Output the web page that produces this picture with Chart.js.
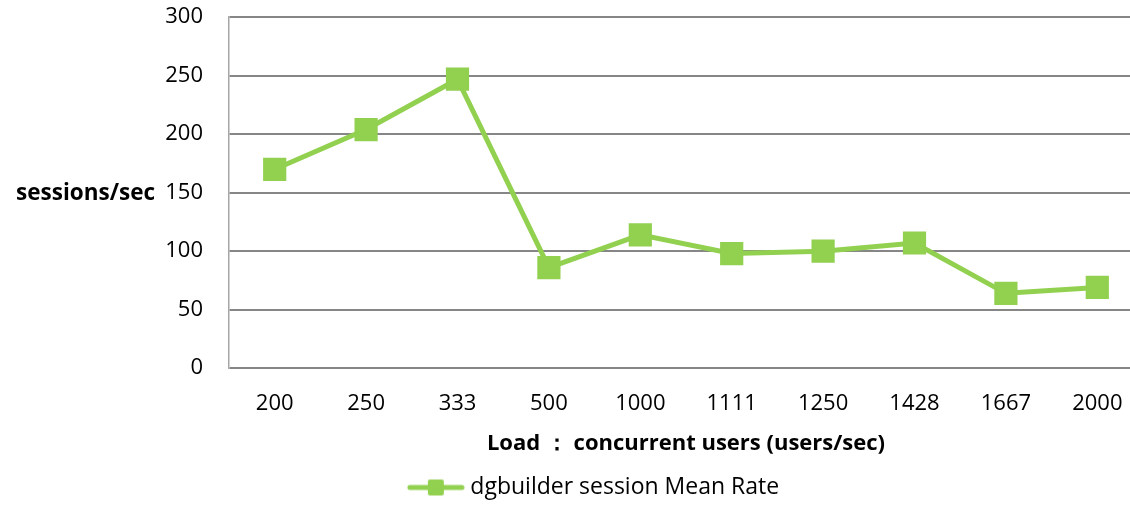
<!DOCTYPE html>
<html>
<head>
<meta charset="utf-8">
<script src="https://cdn.jsdelivr.net/npm/chart.js@4.4.1/dist/chart.umd.min.js"></script>
<style>
  html, body { margin: 0; padding: 0; background: #fff; overflow: hidden; }
  #wrap { width: 1160px; height: 531px; margin-top: -22px; }
</style>
</head>
<body>
<div id="wrap"><canvas id="c" width="1160" height="531"></canvas></div>
<script>
/* Werte */
const loads = ['200', '250', '333', '500', '1000', '1111', '1250', '1428', '1667', '2000'];
const meanRate = [170, 204, 247, 86, 114, 98, 100, 107, 64, 69];
const yMin = 0, yMax = 300, yStep = 50;

const GREEN = '#92D050';
const FONT = '"Open Sans", Lato, sans-serif';

/* Legendensymbol: Linie mit kleinem Quadrat */
function legendIcon() {
  const cv = document.createElement('canvas');
  cv.width = 58; cv.height = 18;
  const g = cv.getContext('2d');
  g.strokeStyle = GREEN; g.lineWidth = 5; g.lineCap = 'round';
  g.beginPath(); g.moveTo(3, 9); g.lineTo(55, 9); g.stroke();
  g.fillStyle = GREEN;
  g.beginPath(); g.roundRect(21, 1, 16, 16, 2); g.fill();
  return cv;
}

/* horizontaler Y-Achsentitel links neben den Ticks */
const yTitle = {
  id: 'yTitle',
  afterDraw(chart) {
    const { ctx, chartArea } = chart;
    ctx.save();
    ctx.font = 'bold 22.5px ' + FONT;
    ctx.fillStyle = '#000';
    ctx.textAlign = 'right';
    ctx.textBaseline = 'middle';
    ctx.fillText('sessions/sec', chartArea.left - 74, (chartArea.top + chartArea.bottom) / 2 + 1);
    ctx.restore();
  }
};

new Chart(document.getElementById('c'), {
  type: 'line',
  data: {
    labels: loads,
    datasets: [{
      label: 'dgbuilder session Mean Rate',
      data: meanRate,
      borderColor: GREEN,
      backgroundColor: GREEN,
      borderWidth: 5,
      pointStyle: 'rect',
      pointRadius: 15,
      pointBorderWidth: 2,
      pointBorderColor: GREEN,
      pointBackgroundColor: GREEN,
      tension: 0,
      fill: false,
    }],
  },
  options: {
    responsive: false,
    animation: false,
    layout: { padding: { left: 47, right: 15, top: 0, bottom: 0 } },
    plugins: {
      tooltip: { enabled: false },
      legend: {
        position: 'bottom',
        labels: {
          usePointStyle: true,
          pointStyle: legendIcon(),
          pointStyleWidth: 46,
          color: '#000',
          font: { family: FONT, size: 23 },
          padding: 6,
        },
      },
    },
    scales: {
      x: {
        offset: true,
        grid: { display: false },
        border: { display: false },
        ticks: { color: '#000', font: { family: FONT, size: 22 }, padding: 14, maxRotation: 0, autoSkip: false },
        title: {
          display: true,
          text: 'Load ： concurrent users (users/sec)',
          color: '#000',
          font: { family: FONT, size: 22, weight: 'bold' },
          padding: { top: 0, bottom: 13 },
        },
      },
      y: {
        min: yMin, max: yMax,
        afterFit(scale) { scale.width = 182; },
        ticks: { stepSize: yStep, color: '#000', font: { family: FONT, size: 22 }, padding: 26 },
        grid: { color: '#868686', lineWidth: 2, drawTicks: false },
        border: { display: true, color: '#A6A6A6', width: 1.5 },
      },
    },
  },
  plugins: [yTitle],
});
</script>
</body>
</html>
